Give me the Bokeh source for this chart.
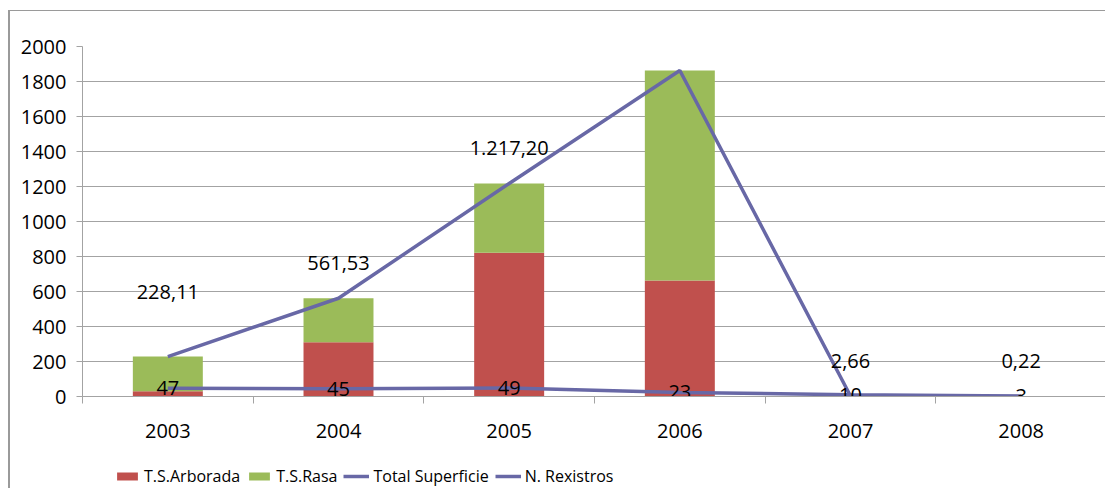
from bokeh.plotting import figure
from bokeh.layouts import column
from bokeh.models import ColumnDataSource, Range1d, FixedTicker, Legend, LegendItem
from bokeh.core.properties import value
from bokeh.embed import file_html
from bokeh.resources import INLINE

# ---- data ----
years = ["2003", "2004", "2005", "2006", "2007", "2008"]
arborada = [30.0, 310.0, 822.0, 663.0, 1.9, 0.12]
rasa = [198.11, 251.53, 395.20, 1199.51, 0.76, 0.10]
total_superficie = [228.11, 561.53, 1217.20, 1862.51, 2.66, 0.22]
n_rexistros = [47, 45, 49, 23, 10, 3]
y_ticks = [0, 200, 400, 600, 800, 1000, 1200, 1400, 1600, 1800, 2000]
series_names = ["T.S.Arborada", "T.S.Rasa", "Total Superficie", "N. Rexistros"]


def fmt_es(v):
    s = f"{v:,.2f}"
    return s.replace(",", "X").replace(".", ",").replace("X", ".")


RED = "#C0504D"
GREEN = "#9BBB59"
LINE = "#6868A6"
GRID = "#A3A3A3"
BORDER = "2px solid #9A9A9A"
FONT = "Open Sans"

n = len(years)
xs = [i + 0.5 for i in range(n)]
# label heights (data units): ~35px above the point, first one lifted higher
lab_y = [t + 200 for t in total_superficie]
lab_y[0] = total_superficie[0] + 370

src = ColumnDataSource(dict(
    x=xs, arb=arborada, rasa=rasa, total=total_superficie, nrex=n_rexistros,
    tlab=[fmt_es(t) for t in total_superficie], tlab_y=lab_y,
    nlab=[str(v) for v in n_rexistros],
))

p = figure(width=1097, height=447, x_range=Range1d(0, n), y_range=Range1d(0, 2000),
           output_backend="svg", toolbar_location=None,
           min_border_left=72, min_border_right=1, min_border_top=35, min_border_bottom=62)
p.styles = {"border-left": BORDER, "border-top": "1px solid #9A9A9A"}
p.outline_line_color = None
p.background_fill_color = "white"

# grid
p.xgrid.visible = False
p.ygrid.ticker = FixedTicker(ticks=y_ticks)
p.ygrid.grid_line_color = GRID
p.ygrid.grid_line_width = 1

# y axis
p.yaxis.ticker = FixedTicker(ticks=y_ticks)
p.yaxis.axis_line_color = GRID
p.yaxis.major_tick_line_color = GRID
p.yaxis.major_tick_out = 6
p.yaxis.major_tick_in = 0
p.yaxis.minor_tick_line_color = None
p.yaxis.major_label_text_font = FONT
p.yaxis.major_label_text_font_size = "20px"
p.yaxis.major_label_text_color = "black"
p.yaxis.major_label_standoff = 10

# x axis
p.xaxis.ticker = FixedTicker(ticks=xs, minor_ticks=list(range(n + 1)))
p.xaxis.major_label_overrides = {x: y for x, y in zip(xs, years)}
p.xaxis.axis_line_color = GRID
p.xaxis.major_tick_line_color = None
p.xaxis.major_tick_out = 0
p.xaxis.major_tick_in = 0
p.xaxis.minor_tick_line_color = GRID
p.xaxis.minor_tick_out = 7
p.xaxis.minor_tick_in = 0
p.xaxis.major_label_text_font = FONT
p.xaxis.major_label_text_font_size = "20px"
p.xaxis.major_label_text_color = "black"
p.xaxis.major_label_standoff = 20

p.vbar_stack(["arb", "rasa"], x="x", width=0.41, source=src,
             fill_color=[RED, GREEN], line_color=None)
p.line("x", "total", source=src, line_color=LINE, line_width=3.5)
p.line("x", "nrex", source=src, line_color=LINE, line_width=3.5)

p.text("x", "tlab_y", text="tlab", source=src, text_align="center", text_baseline="middle",
       text_font=value(FONT), text_font_size="20px", text_color="black")
p.text("x", "nrex", text="nlab", source=src, text_align="center", text_baseline="middle",
       text_font=value(FONT), text_font_size="20px", text_color="black")

# ---- legend strip below the chart ----
# proxy renderers share the chart's data; the strip's x range is set so
# that none of them is in view, only their legend swatches are drawn.
lf = figure(width=1097, height=31, x_range=Range1d(-n - 2, -n - 1), y_range=Range1d(0, 1),
            output_backend="svg", toolbar_location=None,
            x_axis_location=None, y_axis_location=None,
            min_border_left=0, min_border_right=0, min_border_top=0, min_border_bottom=0)
lf.styles = {"border-left": BORDER}
lf.outline_line_color = None
lf.grid.visible = False
r_arb = lf.vbar(x="x", top="arb", width=0.41, source=src, fill_color=RED, line_color=None)
r_rasa = lf.vbar(x="x", top="rasa", width=0.41, source=src, fill_color=GREEN, line_color=None)
r_tot = lf.line(x="x", y="total", source=src, line_color=LINE, line_width=3.5)
r_nrex = lf.line(x="x", y="nrex", source=src, line_color=LINE, line_width=3.5)

legend = Legend(items=[
    LegendItem(label=series_names[0], renderers=[r_arb]),
    LegendItem(label=series_names[1], renderers=[r_rasa]),
    LegendItem(label=series_names[2], renderers=[r_tot]),
    LegendItem(label=series_names[3], renderers=[r_nrex]),
], orientation="horizontal", location=(32, 1))
legend.label_text_font = FONT
legend.label_text_font_size = "16px"
legend.label_text_color = "black"
legend.glyph_width = 26
legend.glyph_height = 10
legend.label_height = 20
legend.label_standoff = 4
legend.spacing = 6
legend.padding = 0
legend.margin = 0
legend.border_line_color = None
legend.background_fill_alpha = 0
lf.add_layout(legend, "center")

root = column(p, lf, spacing=0,
              styles={"padding-left": "8px", "padding-top": "10px", "margin-bottom": "-8px"})

open("out.html", "w").write(file_html(root, INLINE))
